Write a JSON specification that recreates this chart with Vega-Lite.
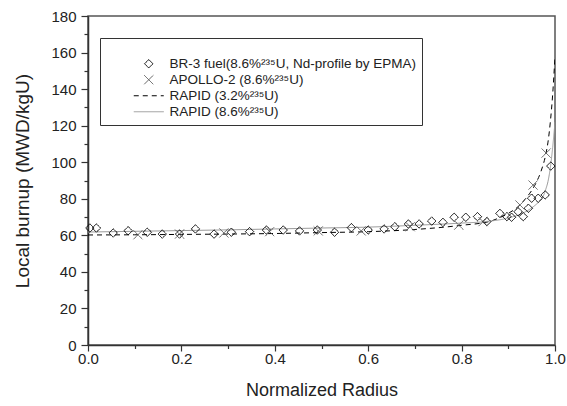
{
  "$schema": "https://vega.github.io/schema/vega-lite/v6.json",
  "width": 467,
  "height": 329,
  "autosize": "none",
  "padding": {"left": 88, "top": 16, "right": 12, "bottom": 61},
  "background": "white",
  "config": {
    "font": "Liberation Sans",
    "view": {"stroke": "#555", "strokeWidth": 1.5},
    "axis": {
      "labelFont": "Liberation Sans",
      "titleFont": "Liberation Sans",
      "labelFontSize": 15,
      "titleFontSize": 18,
      "titleFontWeight": "normal",
      "labelColor": "#222",
      "titleColor": "#222",
      "domainColor": "#333",
      "domainWidth": 1.5,
      "tickColor": "#333",
      "tickWidth": 1.2,
      "labelFlush": false,
      "grid": false
    }
  },
  "datasets": {
    "pts": [
      {"s": "BR-3 fuel(8.6%²³⁵U, Nd-profile by EPMA)", "r": 0.004, "b": 64.0},
      {"s": "BR-3 fuel(8.6%²³⁵U, Nd-profile by EPMA)", "r": 0.018, "b": 64.0},
      {"s": "BR-3 fuel(8.6%²³⁵U, Nd-profile by EPMA)", "r": 0.054, "b": 61.3},
      {"s": "BR-3 fuel(8.6%²³⁵U, Nd-profile by EPMA)", "r": 0.086, "b": 62.5},
      {"s": "BR-3 fuel(8.6%²³⁵U, Nd-profile by EPMA)", "r": 0.127, "b": 61.7},
      {"s": "BR-3 fuel(8.6%²³⁵U, Nd-profile by EPMA)", "r": 0.159, "b": 60.7},
      {"s": "BR-3 fuel(8.6%²³⁵U, Nd-profile by EPMA)", "r": 0.196, "b": 60.7},
      {"s": "BR-3 fuel(8.6%²³⁵U, Nd-profile by EPMA)", "r": 0.230, "b": 63.5},
      {"s": "BR-3 fuel(8.6%²³⁵U, Nd-profile by EPMA)", "r": 0.270, "b": 60.7},
      {"s": "BR-3 fuel(8.6%²³⁵U, Nd-profile by EPMA)", "r": 0.307, "b": 61.7},
      {"s": "BR-3 fuel(8.6%²³⁵U, Nd-profile by EPMA)", "r": 0.346, "b": 62.0},
      {"s": "BR-3 fuel(8.6%²³⁵U, Nd-profile by EPMA)", "r": 0.382, "b": 62.9},
      {"s": "BR-3 fuel(8.6%²³⁵U, Nd-profile by EPMA)", "r": 0.418, "b": 62.9},
      {"s": "BR-3 fuel(8.6%²³⁵U, Nd-profile by EPMA)", "r": 0.453, "b": 62.4},
      {"s": "BR-3 fuel(8.6%²³⁵U, Nd-profile by EPMA)", "r": 0.491, "b": 62.9},
      {"s": "BR-3 fuel(8.6%²³⁵U, Nd-profile by EPMA)", "r": 0.528, "b": 61.7},
      {"s": "BR-3 fuel(8.6%²³⁵U, Nd-profile by EPMA)", "r": 0.564, "b": 64.2},
      {"s": "BR-3 fuel(8.6%²³⁵U, Nd-profile by EPMA)", "r": 0.600, "b": 62.9},
      {"s": "BR-3 fuel(8.6%²³⁵U, Nd-profile by EPMA)", "r": 0.634, "b": 63.5},
      {"s": "BR-3 fuel(8.6%²³⁵U, Nd-profile by EPMA)", "r": 0.657, "b": 64.7},
      {"s": "BR-3 fuel(8.6%²³⁵U, Nd-profile by EPMA)", "r": 0.686, "b": 66.2},
      {"s": "BR-3 fuel(8.6%²³⁵U, Nd-profile by EPMA)", "r": 0.709, "b": 66.2},
      {"s": "BR-3 fuel(8.6%²³⁵U, Nd-profile by EPMA)", "r": 0.736, "b": 67.8},
      {"s": "BR-3 fuel(8.6%²³⁵U, Nd-profile by EPMA)", "r": 0.760, "b": 67.1},
      {"s": "BR-3 fuel(8.6%²³⁵U, Nd-profile by EPMA)", "r": 0.784, "b": 69.9},
      {"s": "BR-3 fuel(8.6%²³⁵U, Nd-profile by EPMA)", "r": 0.809, "b": 69.9},
      {"s": "BR-3 fuel(8.6%²³⁵U, Nd-profile by EPMA)", "r": 0.834, "b": 70.2},
      {"s": "BR-3 fuel(8.6%²³⁵U, Nd-profile by EPMA)", "r": 0.854, "b": 67.5},
      {"s": "BR-3 fuel(8.6%²³⁵U, Nd-profile by EPMA)", "r": 0.882, "b": 72.0},
      {"s": "BR-3 fuel(8.6%²³⁵U, Nd-profile by EPMA)", "r": 0.897, "b": 70.2},
      {"s": "BR-3 fuel(8.6%²³⁵U, Nd-profile by EPMA)", "r": 0.907, "b": 69.9},
      {"s": "BR-3 fuel(8.6%²³⁵U, Nd-profile by EPMA)", "r": 0.921, "b": 72.9},
      {"s": "BR-3 fuel(8.6%²³⁵U, Nd-profile by EPMA)", "r": 0.932, "b": 70.2},
      {"s": "BR-3 fuel(8.6%²³⁵U, Nd-profile by EPMA)", "r": 0.943, "b": 74.8},
      {"s": "BR-3 fuel(8.6%²³⁵U, Nd-profile by EPMA)", "r": 0.950, "b": 80.3},
      {"s": "BR-3 fuel(8.6%²³⁵U, Nd-profile by EPMA)", "r": 0.964, "b": 80.3},
      {"s": "BR-3 fuel(8.6%²³⁵U, Nd-profile by EPMA)", "r": 0.979, "b": 82.1},
      {"s": "BR-3 fuel(8.6%²³⁵U, Nd-profile by EPMA)", "r": 0.991, "b": 97.9},
      {"s": "APOLLO-2 (8.6%²³⁵U)", "r": 0.107, "b": 60.3},
      {"s": "APOLLO-2 (8.6%²³⁵U)", "r": 0.196, "b": 60.7},
      {"s": "APOLLO-2 (8.6%²³⁵U)", "r": 0.291, "b": 61.3},
      {"s": "APOLLO-2 (8.6%²³⁵U)", "r": 0.389, "b": 62.0},
      {"s": "APOLLO-2 (8.6%²³⁵U)", "r": 0.493, "b": 62.4},
      {"s": "APOLLO-2 (8.6%²³⁵U)", "r": 0.585, "b": 62.4},
      {"s": "APOLLO-2 (8.6%²³⁵U)", "r": 0.690, "b": 64.7},
      {"s": "APOLLO-2 (8.6%²³⁵U)", "r": 0.794, "b": 65.6},
      {"s": "APOLLO-2 (8.6%²³⁵U)", "r": 0.846, "b": 67.5},
      {"s": "APOLLO-2 (8.6%²³⁵U)", "r": 0.925, "b": 76.6},
      {"s": "APOLLO-2 (8.6%²³⁵U)", "r": 0.953, "b": 87.5},
      {"s": "APOLLO-2 (8.6%²³⁵U)", "r": 0.981, "b": 105.0}
    ],
    "lines": [
      {"s": "RAPID (3.2%²³⁵U)", "r": 0.0, "b": 60.2},
      {"s": "RAPID (3.2%²³⁵U)", "r": 0.1, "b": 60.3},
      {"s": "RAPID (3.2%²³⁵U)", "r": 0.2, "b": 60.5},
      {"s": "RAPID (3.2%²³⁵U)", "r": 0.3, "b": 60.7},
      {"s": "RAPID (3.2%²³⁵U)", "r": 0.4, "b": 61.0},
      {"s": "RAPID (3.2%²³⁵U)", "r": 0.5, "b": 61.5},
      {"s": "RAPID (3.2%²³⁵U)", "r": 0.6, "b": 62.0},
      {"s": "RAPID (3.2%²³⁵U)", "r": 0.7, "b": 63.2},
      {"s": "RAPID (3.2%²³⁵U)", "r": 0.8, "b": 65.5},
      {"s": "RAPID (3.2%²³⁵U)", "r": 0.86, "b": 67.6},
      {"s": "RAPID (3.2%²³⁵U)", "r": 0.88, "b": 69.5},
      {"s": "RAPID (3.2%²³⁵U)", "r": 0.9, "b": 72.0},
      {"s": "RAPID (3.2%²³⁵U)", "r": 0.92, "b": 75.5},
      {"s": "RAPID (3.2%²³⁵U)", "r": 0.93, "b": 78.0},
      {"s": "RAPID (3.2%²³⁵U)", "r": 0.94, "b": 81.0},
      {"s": "RAPID (3.2%²³⁵U)", "r": 0.95, "b": 84.5},
      {"s": "RAPID (3.2%²³⁵U)", "r": 0.96, "b": 89.0},
      {"s": "RAPID (3.2%²³⁵U)", "r": 0.97, "b": 95.0},
      {"s": "RAPID (3.2%²³⁵U)", "r": 0.98, "b": 104.0},
      {"s": "RAPID (3.2%²³⁵U)", "r": 0.985, "b": 111.0},
      {"s": "RAPID (3.2%²³⁵U)", "r": 0.99, "b": 122.0},
      {"s": "RAPID (3.2%²³⁵U)", "r": 0.995, "b": 137.0},
      {"s": "RAPID (3.2%²³⁵U)", "r": 1.0, "b": 158.0},
      {"s": "RAPID (8.6%²³⁵U)", "r": 0.0, "b": 61.8},
      {"s": "RAPID (8.6%²³⁵U)", "r": 0.1, "b": 62.2},
      {"s": "RAPID (8.6%²³⁵U)", "r": 0.2, "b": 62.6},
      {"s": "RAPID (8.6%²³⁵U)", "r": 0.3, "b": 63.0},
      {"s": "RAPID (8.6%²³⁵U)", "r": 0.4, "b": 63.5},
      {"s": "RAPID (8.6%²³⁵U)", "r": 0.5, "b": 64.0},
      {"s": "RAPID (8.6%²³⁵U)", "r": 0.6, "b": 64.5},
      {"s": "RAPID (8.6%²³⁵U)", "r": 0.7, "b": 65.5},
      {"s": "RAPID (8.6%²³⁵U)", "r": 0.8, "b": 66.7},
      {"s": "RAPID (8.6%²³⁵U)", "r": 0.85, "b": 67.5},
      {"s": "RAPID (8.6%²³⁵U)", "r": 0.9, "b": 69.5},
      {"s": "RAPID (8.6%²³⁵U)", "r": 0.93, "b": 72.0},
      {"s": "RAPID (8.6%²³⁵U)", "r": 0.95, "b": 75.0},
      {"s": "RAPID (8.6%²³⁵U)", "r": 0.96, "b": 77.0},
      {"s": "RAPID (8.6%²³⁵U)", "r": 0.97, "b": 79.5},
      {"s": "RAPID (8.6%²³⁵U)", "r": 0.975, "b": 81.5},
      {"s": "RAPID (8.6%²³⁵U)", "r": 0.98, "b": 85.0},
      {"s": "RAPID (8.6%²³⁵U)", "r": 0.985, "b": 89.5},
      {"s": "RAPID (8.6%²³⁵U)", "r": 0.99, "b": 97.0},
      {"s": "RAPID (8.6%²³⁵U)", "r": 0.995, "b": 108.0},
      {"s": "RAPID (8.6%²³⁵U)", "r": 1.0, "b": 122.0}
    ]
  },
  "resolve": {"axis": {"x": "independent", "y": "independent"}},
  "layer": [
    {
      "data": {"name": "lines"},
      "mark": {"type": "line", "strokeWidth": 1, "interpolate": "monotone", "clip": true},
      "encoding": {
        "x": {
          "field": "r", "type": "quantitative",
          "scale": {"domain": [0, 1], "nice": false, "zero": false},
          "axis": {"orient": "bottom", "values": [0, 0.2, 0.4, 0.6, 0.8, 1.0], "format": ".1f", "tickSize": 6, "labelPadding": 0, "title": "Normalized Radius", "titlePadding": 15}
        },
        "y": {
          "field": "b", "type": "quantitative",
          "scale": {"domain": [0, 180], "nice": false},
          "axis": {"orient": "left", "values": [0, 20, 40, 60, 80, 100, 120, 140, 160, 180], "tickSize": 7, "labelPadding": 5, "title": "Local burnup (MWD/kgU)", "titleFontSize": 19, "titlePadding": 18}
        },
        "color": {
          "field": "s", "type": "nominal",
          "scale": {
            "domain": ["BR-3 fuel(8.6%²³⁵U, Nd-profile by EPMA)", "APOLLO-2 (8.6%²³⁵U)", "RAPID (3.2%²³⁵U)", "RAPID (8.6%²³⁵U)"],
            "range": ["#000000", "#555555", "#000000", "#9a9a9a"]
          }
        },
        "strokeDash": {
          "field": "s", "type": "nominal",
          "scale": {
            "domain": ["BR-3 fuel(8.6%²³⁵U, Nd-profile by EPMA)", "APOLLO-2 (8.6%²³⁵U)", "RAPID (3.2%²³⁵U)", "RAPID (8.6%²³⁵U)"],
            "range": [[1, 0], [1, 0], [5, 4], [1, 0]]
          }
        }
      }
    },
    {
      "data": {"name": "pts"},
      "mark": {"type": "point", "filled": false, "size": 100, "strokeWidth": 1, "opacity": 1},
      "encoding": {
        "x": {
          "field": "r", "type": "quantitative",
          "axis": {"orient": "bottom", "values": [0.1, 0.3, 0.5, 0.7, 0.9], "labels": false, "domain": false, "tickSize": 3.5, "title": null}
        },
        "y": {
          "field": "b", "type": "quantitative",
          "axis": {"orient": "left", "values": [10, 30, 50, 70, 90, 110, 130, 150, 170], "labels": false, "domain": false, "tickSize": 4, "title": null}
        },
        "shape": {
          "field": "s", "type": "nominal",
          "scale": {
            "domain": ["BR-3 fuel(8.6%²³⁵U, Nd-profile by EPMA)", "APOLLO-2 (8.6%²³⁵U)", "RAPID (3.2%²³⁵U)", "RAPID (8.6%²³⁵U)"],
            "range": ["M0,-0.84L0.84,0L0,0.84L-0.84,0Z", "M-0.9,-0.9L0.9,0.9M-0.9,0.9L0.9,-0.9", "M-3,0H3", "M-3,0H3"]
          },
          "legend": {
            "title": " ",
            "titleFontSize": 6,
            "titlePadding": 7,
            "orient": "none",
            "legendX": 12,
            "legendY": 22,
            "strokeColor": "#333",
            "fillColor": "white",
            "padding": 6,
            "symbolOffset": 36,
            "symbolSize": 100,
            "symbolStrokeWidth": 1,
            "labelFont": "Liberation Sans",
            "labelFontSize": 13.5,
            "labelColor": "#222",
            "labelLimit": 400,
            "labelOffset": 14,
            "rowPadding": 1
          }
        },
        "color": {"field": "s", "type": "nominal"},
        "strokeDash": {"field": "s", "type": "nominal"}
      }
    }
  ]
}
